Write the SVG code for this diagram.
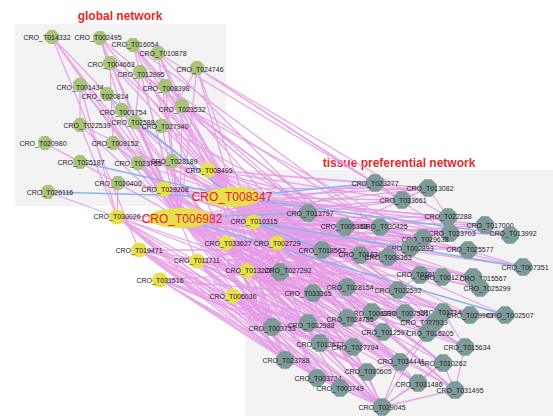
<svg xmlns="http://www.w3.org/2000/svg" xmlns:xlink="http://www.w3.org/1999/xlink" width="553" height="418" viewBox="0 0 553 418">
<style>
.t{font-family:"Liberation Sans",Arial,sans-serif;font-size:7px;fill:#241a26;text-anchor:middle}
.big{font-family:"Liberation Sans",Arial,sans-serif;font-size:12px;fill:#e8202c;text-anchor:middle}
.title{font-family:"Liberation Sans",Arial,sans-serif;font-size:12px;font-weight:bold;fill:#e42a2a;text-anchor:middle}
.pk{fill:none;stroke:#e59ae5;stroke-width:1.3;stroke-opacity:0.85}
.bl{fill:none;stroke:#8cb4ea;stroke-width:1.6}
.gn{fill:#a8c47c}
.yl{fill:#e6e04c}
.ts{fill:#7d9a98}
</style>
<defs>
<polygon id="og" class="gn" points="6.9,2.9 2.9,6.9 -2.9,6.9 -6.9,2.9 -6.9,-2.9 -2.9,-6.9 2.9,-6.9 6.9,-2.9"/>
<polygon id="ot" class="ts" points="8.8,3.6 3.6,8.8 -3.6,8.8 -8.8,3.6 -8.8,-3.6 -3.6,-8.8 3.6,-8.8 8.8,-3.6"/>
<ellipse id="oy" class="yl" rx="8" ry="7.5"/>
</defs>
<rect width="553" height="418" fill="#ffffff"/>
<rect x="15" y="24" width="211" height="182" fill="#f3f3f3"/>
<rect x="245" y="170" width="308" height="246" fill="#f3f3f3"/>
<text class="title" x="120" y="20">global network</text>
<text class="title" x="399" y="167">tissue preferential network</text>
<g id="connectors">
<path class="pk" d="M233 197L428 188M233 197L402 200M233 197L448 217M233 197L308 213M233 197L345 227M233 197L380 227M233 197L485 225M233 197L450 233M233 197L423 238M233 197L410 248M233 197L468 250M233 197L322 250M233 197L360 255M233 197L388 257M233 197L523 267M233 197L280 272M233 197L420 275M233 197L442 277M233 197L473 277M233 197L480 288M233 197L347 287M233 197L398 290M233 197L313 293M233 197L372 312M233 197L405 313M233 197L443 312M233 197L435 322M233 197L470 315M233 197L505 315M233 197L383 332M233 197L427 333M233 197L347 318M233 197L308 323M233 197L272 327M233 197L465 347M233 197L320 343M233 197L353 347M233 197L285 360M233 197L400 362M233 197L443 363M233 197L367 372M233 197L317 378M233 197L340 388M233 197L418 383M233 197L455 390M233 197L382 407"/>
<path class="pk" d="M180 218L375 183M180 218L428 188M180 218L402 200M180 218L448 217M180 218L345 227M180 218L380 227M180 218L485 225M180 218L510 235M180 218L450 233M180 218L423 238M180 218L410 248M180 218L468 250M180 218L322 250M180 218L360 255M180 218L388 257M180 218L523 267M180 218L280 272M180 218L420 275M180 218L442 277M180 218L473 277M180 218L480 288M180 218L347 287M180 218L398 290M180 218L313 293M180 218L372 312M180 218L405 313M180 218L443 312M180 218L435 322M180 218L470 315M180 218L383 332M180 218L427 333M180 218L347 318M180 218L308 323M180 218L272 327M180 218L465 347M180 218L320 343M180 218L353 347M180 218L285 360M180 218L400 362M180 218L443 363M180 218L367 372M180 218L317 378M180 218L340 388M180 218L418 383M180 218L455 390M180 218L382 407"/>
<path class="pk" d="M208 170L375 183M208 170L428 188M208 170L402 200M208 170L308 213M208 170L380 227M208 170L450 233M208 170L322 250M208 170L420 275M208 170L398 290M208 170L443 312M208 170L272 327M208 170L285 360M208 170L317 378M208 170L382 407M164 189L428 188M164 189L448 217M164 189L345 227M164 189L423 238M164 189L360 255M164 189L442 277M164 189L347 287M164 189L372 312M164 189L383 332M164 189L308 323M164 189L320 343M164 189L400 362M164 189L340 388M117 217L308 213M117 217L322 250M117 217L280 272M117 217L313 293M117 217L308 323M117 217L272 327M117 217L285 360M117 217L317 378M117 217L340 388M117 217L382 407M117 217L367 372"/>
<path class="pk" d="M253 222L402 200M253 222L345 227M253 222L380 227M253 222L510 235M253 222L410 248M253 222L468 250M253 222L388 257M253 222L473 277M253 222L398 290M253 222L372 312M253 222L435 322M253 222L427 333M253 222L465 347M253 222L443 363M253 222L455 390M253 222L375 183M226 243L448 217M226 243L485 225M226 243L423 238M226 243L322 250M226 243L280 272M226 243L347 287M226 243L313 293M226 243L405 313M226 243L470 315M226 243L347 318M226 243L272 327M226 243L353 347M226 243L285 360M226 243L367 372M226 243L418 383M226 243L382 407"/>
<path class="pk" d="M277 243L308 213M277 243L450 233M277 243L410 248M277 243L360 255M277 243L420 275M277 243L480 288M277 243L398 290M277 243L443 312M277 243L383 332M277 243L465 347M277 243L400 362M277 243L443 363M277 243L455 390M277 243L468 250M139 250L322 250M139 250L280 272M139 250L313 293M139 250L308 323M139 250L272 327M139 250L320 343M139 250L285 360M139 250L317 378M139 250L340 388M139 250L382 407M139 250L367 372"/>
<path class="pk" d="M197 261L345 227M197 261L360 255M197 261L280 272M197 261L347 287M197 261L313 293M197 261L435 322M197 261L427 333M197 261L308 323M197 261L272 327M197 261L353 347M197 261L285 360M197 261L400 362M197 261L317 378M197 261L418 383M197 261L382 407M160 280L280 272M160 280L313 293M160 280L272 327M160 280L320 343M160 280L285 360M160 280L317 378M160 280L340 388M160 280L382 407M160 280L308 323M160 280L353 347"/>
<path class="pk" d="M247 271L428 188M247 271L380 227M247 271L423 238M247 271L388 257M247 271L442 277M247 271L347 287M247 271L372 312M247 271L470 315M247 271L347 318M247 271L465 347M247 271L400 362M247 271L367 372M247 271L418 383M247 271L455 390M233 296L313 293M233 296L308 323M233 296L272 327M233 296L320 343M233 296L285 360M233 296L317 378M233 296L340 388M233 296L382 407M233 296L353 347M233 296L367 372M233 296L383 332M233 296L400 362"/>
<path class="pk" d="M52 37L180 218M52 37L139 250M52 37L272 327M52 37L107 94M100 38L233 197M100 38L180 218M100 38L253 222M100 38L308 213M100 38L313 293M100 38L110 63M133 45L233 197M133 45L180 218M133 45L226 243M133 45L380 227M133 45L347 287M158 53L233 197M158 53L180 218M158 53L208 170M158 53L402 200M158 53L360 255M110 63L233 197M110 63L180 218M110 63L197 261M110 63L322 250M197 68L233 197M197 68L180 218M197 68L253 222M197 68L448 217M197 68L450 233M197 68L375 183M140 72L233 197M140 72L180 218M140 72L277 243M140 72L345 227M140 72L398 290M80 85L180 218M80 85L117 217M80 85L272 327M80 85L80 125M165 86L233 197M165 86L180 218M165 86L208 170M165 86L410 248M165 86L435 322M107 94L180 218M107 94L164 189"/>
<path class="pk" d="M182 106L233 197M182 106L180 218M182 106L253 222M182 106L423 238M182 106L388 257M122 110L180 218M122 110L226 243M135 122L233 197M135 122L180 218M135 122L247 271M135 122L347 318M162 126L233 197M162 126L180 218M162 126L277 243M162 126L442 277M80 125L233 197M80 125L180 218M80 125L117 217M45 143L180 218M45 143L80 162M113 143L233 197M113 143L180 218M113 143L164 189M113 143L280 272M80 162L180 218M138 163L233 197M138 163L180 218M138 163L208 170M172 161L233 197M172 161L180 218M172 161L253 222M172 161L347 287M118 183L233 197M118 183L180 218M118 183L117 217M48 192L117 217M133 45L165 86M158 53L182 106M100 38L122 110M197 68L162 126M140 72L135 122M110 63L113 143"/>
<path class="pk" d="M382 407L367 372M382 407L400 362M382 407L340 388M382 407L317 378M382 407L418 383M382 407L455 390M382 407L353 347M382 407L320 343M382 407L285 360M382 407L443 363M382 407L427 333M367 372L400 362M455 390L465 347M505 315L470 315M523 267L468 250M510 235L485 225M443 363L418 383M427 333L400 362M420 275L398 290M448 217L428 188M402 200L428 188M375 183L402 200M423 238L450 233M465 347L443 312M455 390L443 363M473 277L480 288"/>
<path class="bl" d="M48 192L233 197M80 162L233 197M233 197L375 183M233 197L510 235M253 222L523 267M180 218L505 315M180 218L308 213M107 94L122 110M122 110L233 197M253 222L322 250"/>
</g>
<g id="n-CRO_T014332"><use href="#og" x="52" y="37"/><text class="t" x="47" y="40">CRO_T014332</text></g>
<g id="n-CRO_T002495"><use href="#og" x="100" y="38"/><text class="t" x="98" y="40">CRO_T002495</text></g>
<g id="n-CRO_T016054"><use href="#og" x="133" y="45"/><text class="t" x="135" y="47">CRO_T016054</text></g>
<g id="n-CRO_T010878"><use href="#og" x="158" y="53"/><text class="t" x="163" y="56">CRO_T010878</text></g>
<g id="n-CRO_T004663"><use href="#og" x="110" y="63"/><text class="t" x="111" y="67">CRO_T004663</text></g>
<g id="n-CRO_T024746"><use href="#og" x="197" y="68"/><text class="t" x="200" y="72">CRO_T024746</text></g>
<g id="n-CRO_T012995"><use href="#og" x="140" y="72"/><text class="t" x="141" y="77">CRO_T012995</text></g>
<g id="n-CRO_T001434"><use href="#og" x="80" y="85"/><text class="t" x="80" y="90">CRO_T001434</text></g>
<g id="n-CRO_T008398"><use href="#og" x="165" y="86"/><text class="t" x="166" y="91">CRO_T008398</text></g>
<g id="n-CRO_T020814"><use href="#og" x="107" y="94"/><text class="t" x="105" y="99">CRO_T020814</text></g>
<g id="n-CRO_T023532"><use href="#og" x="182" y="106"/><text class="t" x="182" y="112">CRO_T023532</text></g>
<g id="n-CRO_T001754"><use href="#og" x="122" y="110"/><text class="t" x="123" y="115">CRO_T001754</text></g>
<g id="n-CRO_T025884"><use href="#og" x="135" y="122"/><text class="t" x="135" y="125">CRO_T025884</text></g>
<g id="n-CRO_T027940"><use href="#og" x="162" y="126"/><text class="t" x="165" y="129">CRO_T027940</text></g>
<g id="n-CRO_T022539"><use href="#og" x="80" y="125"/><text class="t" x="87" y="128">CRO_T022539</text></g>
<g id="n-CRO_T020980"><use href="#og" x="45" y="143"/><text class="t" x="43" y="146">CRO_T020980</text></g>
<g id="n-CRO_T009152"><use href="#og" x="113" y="143"/><text class="t" x="115" y="146">CRO_T009152</text></g>
<g id="n-CRO_T025187"><use href="#og" x="80" y="162"/><text class="t" x="81" y="165">CRO_T025187</text></g>
<g id="n-CRO_T023755"><use href="#og" x="138" y="163"/><text class="t" x="138" y="166">CRO_T023755</text></g>
<g id="n-CRO_T028189"><use href="#og" x="172" y="161"/><text class="t" x="174" y="164">CRO_T028189</text></g>
<g id="n-CRO_T020400"><use href="#og" x="118" y="183"/><text class="t" x="118" y="186">CRO_T020400</text></g>
<g id="n-CRO_T026116"><use href="#og" x="48" y="192"/><text class="t" x="50" y="195">CRO_T026116</text></g>
<g id="n-CRO_T008499"><use href="#oy" x="208" y="170"/><text class="t" x="209" y="173">CRO_T008499</text></g>
<g id="n-CRO_T029208"><use href="#oy" x="164" y="189"/><text class="t" x="165" y="192">CRO_T029208</text></g>
<g id="n-CRO_T030026"><use href="#oy" x="117" y="217"/><text class="t" x="117" y="219">CRO_T030026</text></g>
<g id="n-CRO_T010315"><use href="#oy" x="253" y="222"/><text class="t" x="254" y="224">CRO_T010315</text></g>
<g id="n-CRO_T033627"><use href="#oy" x="226" y="243"/><text class="t" x="228" y="246">CRO_T033627</text></g>
<g id="n-CRO_T002729"><use href="#oy" x="277" y="243"/><text class="t" x="277" y="246">CRO_T002729</text></g>
<g id="n-CRO_T019471"><use href="#oy" x="139" y="250"/><text class="t" x="139" y="253">CRO_T019471</text></g>
<g id="n-CRO_T011711"><use href="#oy" x="197" y="261"/><text class="t" x="197" y="263">CRO_T011711</text></g>
<g id="n-CRO_T031516"><use href="#oy" x="160" y="280"/><text class="t" x="160" y="283">CRO_T031516</text></g>
<g id="n-CRO_T006030"><use href="#oy" x="233" y="296"/><text class="t" x="233" y="299">CRO_T006030</text></g>
<g id="n-CRO_T008347"><ellipse class="yl" cx="233" cy="197" rx="28" ry="10"/><text class="big" x="232" y="201">CRO_T008347</text></g>
<g id="n-CRO_T006982"><ellipse class="yl" cx="180" cy="218" rx="32" ry="10"/><text class="big" x="182" y="223">CRO_T006982</text></g>
<g id="n-CRO_T023277"><use href="#ot" x="375" y="183"/><text class="t" x="375" y="186">CRO_T023277</text></g>
<g id="n-CRO_T013082"><use href="#ot" x="428" y="188"/><text class="t" x="430" y="191">CRO_T013082</text></g>
<g id="n-CRO_T033661"><use href="#ot" x="402" y="200"/><text class="t" x="403" y="203">CRO_T033661</text></g>
<g id="n-CRO_T022288"><use href="#ot" x="448" y="217"/><text class="t" x="448" y="219">CRO_T022288</text></g>
<g id="n-CRO_T013797"><use href="#ot" x="308" y="213"/><text class="t" x="310" y="216">CRO_T013797</text></g>
<g id="n-CRO_T005358"><use href="#ot" x="345" y="227"/><text class="t" x="344" y="229">CRO_T005358</text></g>
<g id="n-CRO_T030425"><use href="#ot" x="380" y="227"/><text class="t" x="384" y="229">CRO_T030425</text></g>
<g id="n-CRO_T017000"><use href="#ot" x="485" y="225"/><text class="t" x="490" y="228">CRO_T017000</text></g>
<g id="n-CRO_T013992"><use href="#ot" x="510" y="235"/><text class="t" x="513" y="236">CRO_T013992</text></g>
<g id="n-CRO_T033703"><use href="#ot" x="450" y="233"/><text class="t" x="452" y="236">CRO_T033703</text></g>
<g id="n-CRO_T029638"><use href="#ot" x="423" y="238"/><text class="t" x="425" y="242">CRO_T029638</text></g>
<g id="n-CRO_T002893"><use href="#ot" x="410" y="248"/><text class="t" x="410" y="251">CRO_T002893</text></g>
<g id="n-CRO_T025577"><use href="#ot" x="468" y="250"/><text class="t" x="470" y="252">CRO_T025577</text></g>
<g id="n-CRO_T018562"><use href="#ot" x="322" y="250"/><text class="t" x="322" y="253">CRO_T018562</text></g>
<g id="n-CRO_T018346"><use href="#ot" x="360" y="255"/><text class="t" x="362" y="257">CRO_T018346</text></g>
<g id="n-CRO_T008363"><use href="#ot" x="388" y="257"/><text class="t" x="388" y="260">CRO_T008363</text></g>
<g id="n-CRO_T007351"><use href="#ot" x="523" y="267"/><text class="t" x="525" y="270">CRO_T007351</text></g>
<g id="n-CRO_T013220"><use href="#oy" x="247" y="271"/><text class="t" x="249" y="273">CRO_T013220</text></g>
<g id="n-CRO_T027292"><use href="#ot" x="280" y="272"/><text class="t" x="288" y="273">CRO_T027292</text></g>
<g id="n-CRO_T018190"><use href="#ot" x="420" y="275"/><text class="t" x="420" y="277">CRO_T018190</text></g>
<g id="n-CRO_T001270"><use href="#ot" x="442" y="277"/><text class="t" x="443" y="280">CRO_T001270</text></g>
<g id="n-CRO_T015567"><use href="#ot" x="473" y="277"/><text class="t" x="483" y="281">CRO_T015567</text></g>
<g id="n-CRO_T025299"><use href="#ot" x="480" y="288"/><text class="t" x="487" y="291">CRO_T025299</text></g>
<g id="n-CRO_T028154"><use href="#ot" x="347" y="287"/><text class="t" x="350" y="290">CRO_T028154</text></g>
<g id="n-CRO_T022592"><use href="#ot" x="398" y="290"/><text class="t" x="398" y="293">CRO_T022592</text></g>
<g id="n-CRO_T033365"><use href="#ot" x="313" y="293"/><text class="t" x="308" y="296">CRO_T033365</text></g>
<g id="n-CRO_T006839"><use href="#ot" x="372" y="312"/><text class="t" x="372" y="316">CRO_T006839</text></g>
<g id="n-CRO_T007551"><use href="#ot" x="405" y="313"/><text class="t" x="405" y="316">CRO_T007551</text></g>
<g id="n-CRO_T017144"><use href="#ot" x="443" y="312"/><text class="t" x="442" y="315">CRO_T017144</text></g>
<g id="n-CRO_T027939"><use href="#ot" x="435" y="322"/><text class="t" x="424" y="325">CRO_T027939</text></g>
<g id="n-CRO_T029901"><use href="#ot" x="470" y="315"/><text class="t" x="470" y="318">CRO_T029901</text></g>
<g id="n-CRO_T002507"><use href="#ot" x="505" y="315"/><text class="t" x="510" y="318">CRO_T002507</text></g>
<g id="n-CRO_T012597"><use href="#ot" x="383" y="332"/><text class="t" x="385" y="335">CRO_T012597</text></g>
<g id="n-CRO_T016205"><use href="#ot" x="427" y="333"/><text class="t" x="430" y="336">CRO_T016205</text></g>
<g id="n-CRO_T024785"><use href="#ot" x="347" y="318"/><text class="t" x="350" y="322">CRO_T024785</text></g>
<g id="n-CRO_T032988"><use href="#ot" x="308" y="323"/><text class="t" x="311" y="328">CRO_T032988</text></g>
<g id="n-CRO_T003733"><use href="#ot" x="272" y="327"/><text class="t" x="272" y="331">CRO_T003733</text></g>
<g id="n-CRO_T015634"><use href="#ot" x="465" y="347"/><text class="t" x="467" y="350">CRO_T015634</text></g>
<g id="n-CRO_T013673"><use href="#ot" x="320" y="343"/><text class="t" x="320" y="347">CRO_T013673</text></g>
<g id="n-CRO_T027794"><use href="#ot" x="353" y="347"/><text class="t" x="355" y="350">CRO_T027794</text></g>
<g id="n-CRO_T023788"><use href="#ot" x="285" y="360"/><text class="t" x="286" y="363">CRO_T023788</text></g>
<g id="n-CRO_T034441"><use href="#ot" x="400" y="362"/><text class="t" x="401" y="364">CRO_T034441</text></g>
<g id="n-CRO_T010262"><use href="#ot" x="443" y="363"/><text class="t" x="443" y="366">CRO_T010262</text></g>
<g id="n-CRO_T030605"><use href="#ot" x="367" y="372"/><text class="t" x="368" y="374">CRO_T030605</text></g>
<g id="n-CRO_T003734"><use href="#ot" x="317" y="378"/><text class="t" x="318" y="381">CRO_T003734</text></g>
<g id="n-CRO_T003749"><use href="#ot" x="340" y="388"/><text class="t" x="340" y="391">CRO_T003749</text></g>
<g id="n-CRO_T031486"><use href="#ot" x="418" y="383"/><text class="t" x="419" y="387">CRO_T031486</text></g>
<g id="n-CRO_T031495"><use href="#ot" x="455" y="390"/><text class="t" x="460" y="393">CRO_T031495</text></g>
<g id="n-CRO_T029045"><use href="#ot" x="382" y="407"/><text class="t" x="382" y="410">CRO_T029045</text></g>
</svg>
